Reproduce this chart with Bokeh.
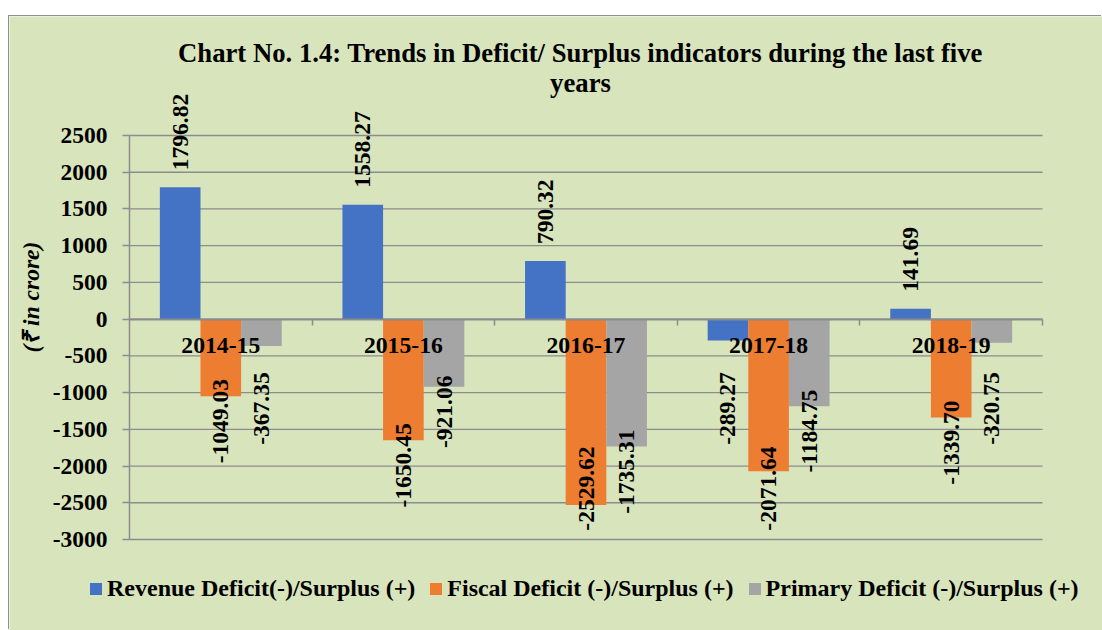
import math
from bokeh.plotting import figure
from bokeh.models import (ColumnDataSource, Range1d, LinearAxis, FixedTicker,
                          Legend, LegendItem, Label)
from bokeh.core.properties import value
from bokeh.embed import file_html
from bokeh.resources import INLINE

# ---------------- data ----------------
years = ["2014-15", "2015-16", "2016-17", "2017-18", "2018-19"]
revenue = [1796.82, 1558.27, 790.32, -289.27, 141.69]
fiscal = [-1049.03, -1650.45, -2529.62, -2071.64, -1339.70]
primary = [-367.35, -921.06, -1735.31, -1184.75, -320.75]
series_names = ["Revenue Deficit(-)/Surplus (+)",
                "Fiscal Deficit (-)/Surplus (+)",
                "Primary Deficit (-)/Surplus (+)"]
y_ticks = [-3000, -2500, -2000, -1500, -1000, -500, 0, 500, 1000, 1500, 2000, 2500]
title_lines = ["Chart No. 1.4: Trends in Deficit/ Surplus indicators during the last five",
               "years"]
y_label = "(\u20b9 in crore)"

# ---------------- style / layout ----------------
GREEN = "#d8e4bc"
GRID = "#8c8c8c"
COLORS = ["#4472c4", "#ed7d31", "#a5a5a5"]
FONT = value("Liberation Serif")
FS = "23.5px"
W, H = 1093, 614
n = len(years)
Y0, Y1 = y_ticks[0], y_ticks[-1]
# pixel placement of the plotting area inside the canvas
PX_L, PX_R, PY_T, PY_B = 120, 1033, 119, 523
xs = (PX_R - PX_L) / n
k = (PY_B - PY_T) / (Y1 - Y0)          # px per data unit
BW = 0.2225
centers = [i + 0.5 for i in range(n)]

x_range = Range1d(-PX_L / xs, n + (W - PX_R) / xs)
y_range = Range1d(Y0 - (H - PY_B) / k, Y1 + PY_T / k)

p = figure(x_range=x_range, y_range=y_range, width=W, height=H,
           output_backend="svg", toolbar_location=None,
           x_axis_location=None, y_axis_location=None,
           min_border=0, min_border_left=0, min_border_right=0,
           min_border_top=0, min_border_bottom=0,
           background_fill_color=GREEN, border_fill_color=GREEN,
           outline_line_color=None, margin=(16, 0, 0, 9))
p.styles = {"box-shadow": "-1px -1px 0px 0px #8f8f8f"}
p.xgrid.visible = False
p.ygrid.visible = False

# gridlines across the plotting area
p.segment(x0=[0] * len(y_ticks), x1=[n] * len(y_ticks), y0=y_ticks, y1=y_ticks,
          line_color=GRID, line_width=1.3)

# y axis
ya = LinearAxis(fixed_location=0, bounds=(Y0, Y1), ticker=FixedTicker(ticks=y_ticks),
                major_label_overrides={t: str(t) for t in y_ticks},
                axis_line_color=GRID, axis_line_width=1.5,
                major_tick_line_color=GRID, major_tick_line_width=1.5,
                major_tick_out=7, major_tick_in=0, minor_tick_line_color=None,
                major_label_standoff=15, major_label_text_font="Liberation Serif",
                major_label_text_font_style="bold", major_label_text_font_size=FS,
                major_label_text_color="black")
p.add_layout(ya, "left")

# category axis at zero (labels at category centres)
xa = LinearAxis(fixed_location=0, bounds=(0, n), ticker=FixedTicker(ticks=centers),
                major_label_overrides={c: y for c, y in zip(centers, years)},
                axis_line_color=GRID, axis_line_width=2,
                major_tick_line_color=None, major_tick_out=0, major_tick_in=0,
                minor_tick_line_color=None, major_label_standoff=19,
                major_label_text_font="Liberation Serif", major_label_text_font_style="bold",
                major_label_text_font_size="23.7px", major_label_text_color="black")
p.add_layout(xa, "below")

# boundary ticks between categories
ba = LinearAxis(fixed_location=0, bounds=(0, n), ticker=FixedTicker(ticks=list(range(1, n + 1))),
                axis_line_color=None, major_tick_line_color=GRID,
                major_tick_line_width=1.5, major_tick_out=6, major_tick_in=0,
                minor_tick_line_color=None, major_label_text_font_size="0px",
                major_label_text_color=None)
p.add_layout(ba, "below")

# bars
offsets = [-BW, 0.0, BW]
series = [revenue, fiscal, primary]
renderers = []
for vals, off, c in zip(series, offsets, COLORS):
    src = ColumnDataSource(dict(x=[cx + off for cx in centers], top=vals))
    r = p.vbar(x="x", top="top", bottom=0, width=BW, source=src,
               fill_color=c, line_color=None)
    renderers.append(r)

# data labels
for vals, off in zip(series, offsets):
    pos = dict(x=[], y=[], txt=[])
    neg = dict(x=[], y=[], txt=[])
    for cx, v in zip(centers, vals):
        if v >= 0:
            pos["x"].append(cx + off)
            pos["y"].append(v + 17 / k)
            pos["txt"].append(f"{v:.2f}")
        else:
            c = min(max(-v * k + 25, 89.4), 169.4)
            neg["x"].append(cx + off)
            neg["y"].append(-c / k)
            neg["txt"].append(f"{v:.2f}")
    if pos["x"]:
        p.text(x="x", y="y", text="txt", source=ColumnDataSource(pos), angle=math.pi / 2,
               text_align="left", text_baseline="middle", text_font=FONT,
               text_font_style="bold", text_font_size=FS, text_color="black")
    if neg["x"]:
        p.text(x="x", y="y", text="txt", source=ColumnDataSource(neg), angle=math.pi / 2,
               text_align="center", text_baseline="middle", text_font=FONT,
               text_font_style="bold", text_font_size=FS, text_color="black")

# legend
legend = Legend(items=[LegendItem(label=s, renderers=[r]) for s, r in zip(series_names, renderers)],
                orientation="horizontal", location=(79, 28),
                glyph_width=15, glyph_height=15, label_standoff=4, spacing=13,
                padding=0, margin=0, label_height=24,
                border_line_color=None, background_fill_alpha=0,
                label_text_font="Liberation Serif", label_text_font_style="bold",
                label_text_font_size="24px", label_text_color="black")
p.add_layout(legend)

# title
for line, yoff in zip(title_lines, [82.5, 53]):
    p.add_layout(Label(x=n / 2, y=Y1, x_offset=-5.5, y_offset=yoff,
                       text=line, text_align="center", text_baseline="alphabetic",
                       text_font="Liberation Serif", text_font_style="bold",
                       text_font_size="26.7px", text_color="black"))

# y axis label
p.add_layout(Label(x=0, y=0, x_offset=-99, y_offset=22,
                   text=y_label, angle=math.pi / 2, text_align="center",
                   text_baseline="middle", text_font="Liberation Serif",
                   text_font_style="bold italic", text_font_size=FS, text_color="black"))

open("out.html", "w", encoding="utf-8").write(file_html(p, INLINE))
